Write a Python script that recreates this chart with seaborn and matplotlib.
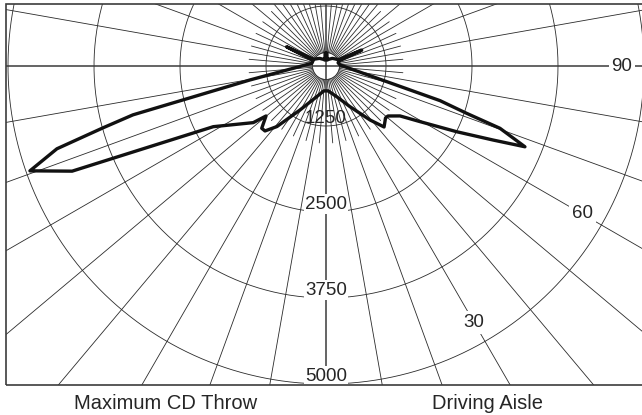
import numpy as np
import pandas as pd
import matplotlib
matplotlib.use("Agg")
import matplotlib.pyplot as plt
from matplotlib.patches import Rectangle
import seaborn as sns

# candela curve: angle from nadir (deg, + = driving aisle side)
angles_deg = [-180, -176, -170, -160, -140, -119, -116, -113, -100.7, -79.6,
              -75.8, -74.5, -72.9, -70.5, -67.5, -61.7, -52.1, -50.2, -45.9, -43.2,
              -39.0, -30.6, -16.9, -5, 5, 19.2, 30.5, 39.2, 43.6, 48.9,
              51.1, 56.0, 59.4, 63.3, 66.1, 67.9, 70.3, 71.4, 73.1, 74.1,
              94.1, 105, 111, 114, 117, 140, 160, 170, 176, 180]
candela = [567, 567, 465, 480, 523, 581, 1015, 581, 589, 1502,
           3272, 3743, 4470, 4943, 4372, 2238, 1718, 1513, 1679, 1673,
           1510, 1121, 845, 741, 741, 850, 1064, 1391, 1602, 1526,
           1535, 1676, 1967, 2504, 3034, 3499, 3064, 2535, 2111, 1648,
           582, 560, 581, 946, 581, 523, 480, 465, 567, 567]

ring_values = [1250, 2500, 3750, 5000]
ring_labels = ["1250", "2500", "3750", "5000"]
angle_labels = [30, 60, 90]
side_labels = ["Maximum CD Throw", "Driving Aisle"]

# radial scale of the chart (value at centre / value at axes edge)
R_MIN, R_MAX = 378, 7064
HUB = 574          # little white hub circle
FINE_END = 1500    # 5 degree spokes stop here
FAR = 9000         # long spokes run out to the frame

sns.set_theme(style="white")
plt.rcParams["font.family"] = ["Liberation Sans", "DejaVu Sans"]

W, H = 642, 415
fig = plt.figure(figsize=(W / 100, H / 100), dpi=100)
cx, cy, rad = 326, 66, 460
ax = fig.add_axes([(cx - rad) / W, (H - cy - rad) / H, 2 * rad / W, 2 * rad / H],
                  projection="polar")
ax.set_theta_zero_location("S")
ax.set_theta_direction(1)

# frame of the chart, also used as clip box
frame = Rectangle((6 / W, (H - 385) / H), 640 / W, 381 / H, transform=fig.transFigure,
                  fill=False, edgecolor="#3c3c3c", lw=1.2, zorder=10)
fig.add_artist(frame)

# -------------------------------------------------------------------------
# grid
grid_kw = dict(color="#2b2b2b", lw=0.6, zorder=1)
full = np.linspace(0, 2 * np.pi, 721)
for v in [HUB] + ring_values:
    ax.plot(full, np.full_like(full, v), **grid_kw)

for a in range(0, 360, 5):
    if a % 90 == 0:
        continue
    outer = FAR if a % 10 == 0 else FINE_END
    ax.plot(np.radians([a, a]), [HUB, outer], **grid_kw)

for a in (0, 90, 180, 270):
    ax.plot(np.radians([a, a]), [R_MIN, FAR], color="#3a3a3a", lw=1.1, zorder=2)

# -------------------------------------------------------------------------
# candela curve
curve = pd.DataFrame({"theta": np.radians(angles_deg), "cd": candela})
sns.lineplot(data=curve, x="theta", y="cd", sort=False, estimator=None, ax=ax,
             color="#111111", lw=2.4, zorder=5)

ax.set_thetalim(0, 2 * np.pi)
ax.set_rlim(R_MIN, R_MAX)
ax.set_axis_off()

for ln in ax.lines:
    ln.set_clip_path(frame)

# -------------------------------------------------------------------------
# labels
label_kw = dict(ha="center", va="center", fontsize=13.5, color="#262626", zorder=6)
for v, s in zip(ring_values, ring_labels):
    box = None if v == 1250 else dict(fc="white", ec="none", pad=1)
    ax.text(0, v - 116, s, bbox=box, **label_kw)

for a in angle_labels:
    ax.text(np.radians(a), 4680, str(a),
            bbox=dict(fc="white", ec="none", pad=2), **label_kw)

fig.text(165.5 / W, 1 - 403 / H, side_labels[0], ha="center", va="center",
         fontsize=14.5, color="#262626")
fig.text(488 / W, 1 - 403 / H, side_labels[1], ha="center", va="center",
         fontsize=14.5, color="#262626")

fig.savefig("out.png", dpi=100)
